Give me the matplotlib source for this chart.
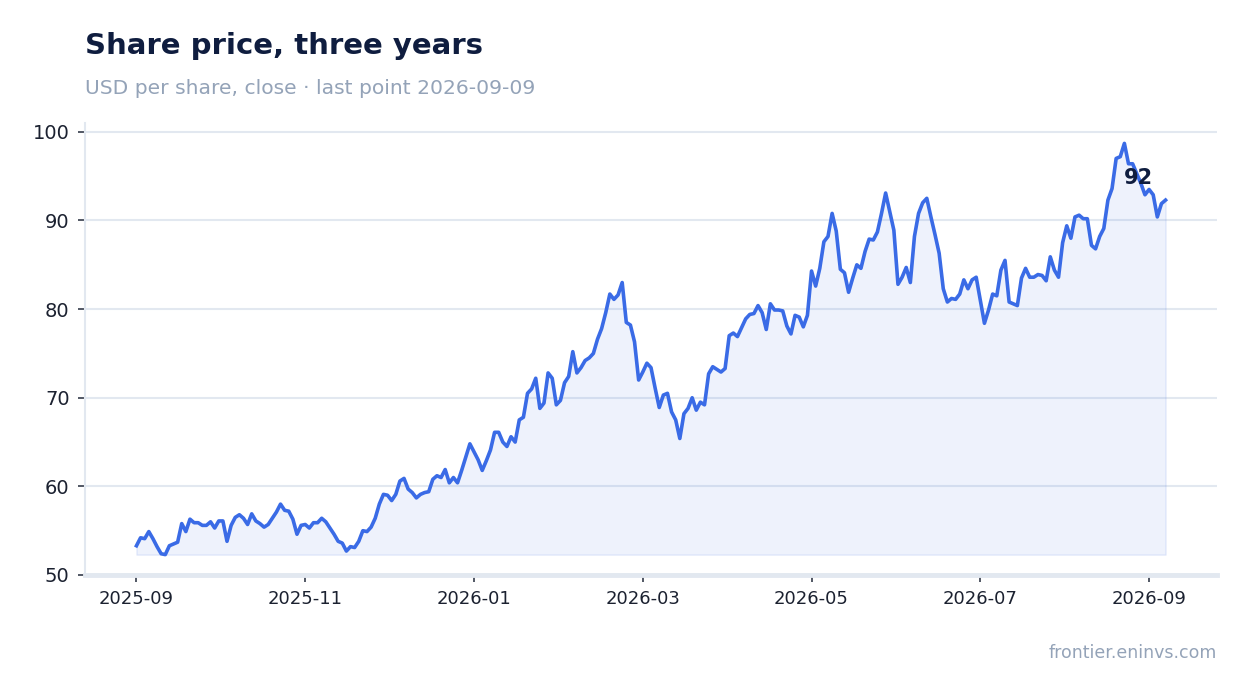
import numpy as np
import pandas as pd
import matplotlib
matplotlib.use("Agg")
import matplotlib.pyplot as plt
import matplotlib.dates as mdates
from matplotlib.ticker import FixedLocator

# closing price, evenly spaced from 2025-09-01 to 2026-09-09
prices = [
    53.3, 54.2, 54.1, 54.9, 54.1, 53.2, 52.4, 52.3, 53.3, 53.5,
    53.7, 55.8, 54.9, 56.3, 55.9, 55.9, 55.6, 55.6, 56.0, 55.3,
    56.1, 56.1, 53.8, 55.6, 56.5, 56.8, 56.4, 55.7, 56.9, 56.1,
    55.8, 55.4, 55.7, 56.4, 57.1, 58.0, 57.3, 57.2, 56.3, 54.6,
    55.6, 55.7, 55.3, 55.9, 55.9, 56.4, 56.0, 55.3, 54.6, 53.8,
    53.6, 52.7, 53.2, 53.1, 53.8, 55.0, 54.9, 55.4, 56.4, 58.0,
    59.1, 59.0, 58.4, 59.1, 60.6, 60.9, 59.7, 59.3, 58.7, 59.1,
    59.3, 59.4, 60.8, 61.2, 61.0, 61.9, 60.4, 61.0, 60.4, 61.8,
    63.3, 64.8, 63.9, 63.0, 61.8, 62.9, 64.1, 66.1, 66.1, 65.0,
    64.5, 65.6, 65.0, 67.5, 67.8, 70.5, 71.0, 72.2, 68.8, 69.4,
    72.8, 72.2, 69.2, 69.7, 71.7, 72.4, 75.2, 72.8, 73.4, 74.2,
    74.5, 75.0, 76.6, 77.8, 79.6, 81.7, 81.1, 81.6, 83.0, 78.5,
    78.2, 76.3, 72.0, 72.9, 73.9, 73.4, 71.1, 68.9, 70.3, 70.5,
    68.4, 67.5, 65.4, 68.2, 68.8, 70.0, 68.6, 69.5, 69.2, 72.7,
    73.5, 73.2, 72.9, 73.3, 77.0, 77.3, 76.9, 77.9, 78.9, 79.4,
    79.5, 80.4, 79.6, 77.7, 80.6, 79.9, 79.9, 79.8, 78.1, 77.2,
    79.3, 79.1, 78.0, 79.3, 84.3, 82.6, 84.6, 87.6, 88.2, 90.8,
    88.8, 84.5, 84.1, 81.9, 83.5, 85.0, 84.6, 86.5, 87.9, 87.8,
    88.7, 90.8, 93.1, 91.0, 88.9, 82.8, 83.6, 84.7, 83.0, 88.2,
    90.8, 92.0, 92.5, 90.4, 88.4, 86.3, 82.3, 80.8, 81.2, 81.1,
    81.7, 83.3, 82.3, 83.3, 83.6, 81.0, 78.4, 79.9, 81.7, 81.5,
    84.4, 85.5, 80.8, 80.6, 80.4, 83.5, 84.6, 83.6, 83.6, 83.9,
    83.8, 83.2, 85.9, 84.4, 83.6, 87.5, 89.4, 88.0, 90.4, 90.6,
    90.2, 90.2, 87.2, 86.8, 88.2, 89.1, 92.3, 93.6, 97.0, 97.2,
    98.7, 96.4, 96.4, 95.3, 94.2, 92.9, 93.5, 92.9, 90.4, 91.9,
    92.3,
]
dates = pd.date_range("2025-09-01", "2026-09-09", periods=len(prices))

yticks = [50, 60, 70, 80, 90, 100]
tick_step = 41  # one label every 41 points (~2 months)

line_color = "#3a6be6"
navy = "#0f1d3f"
muted = "#94a3b8"
grid_color = "#e2e8f0"

fig = plt.figure(figsize=(12.47, 6.93), dpi=100)
ax = fig.add_axes([85 / 1247, 1 - 575 / 693, (1217 - 85) / 1247, (575 - 123) / 693])

ax.fill_between(dates, prices, min(prices), facecolor=(0.23, 0.42, 0.90, 0.085),
                edgecolor=(0.23, 0.42, 0.90, 0.12), lw=1, zorder=2)
ax.plot(dates, prices, color=line_color, lw=2.6, zorder=3)

ax.set_ylim(50, 101)
ax.set_yticks(yticks)
ax.xaxis.set_major_locator(FixedLocator(mdates.date2num(dates[::tick_step])))
ax.xaxis.set_major_formatter(mdates.DateFormatter("%Y-%m"))
ax.margins(x=0.05)

ax.grid(axis="y", color=grid_color, lw=1.5, zorder=0)
ax.set_axisbelow(True)
for side in ["top", "right"]:
    ax.spines[side].set_visible(False)
ax.spines["left"].set_color(grid_color)
ax.spines["left"].set_linewidth(1.5)
ax.spines["bottom"].set_color(grid_color)
ax.spines["bottom"].set_linewidth(3.5)
ax.tick_params(axis="y", labelsize=14, colors="#333b4a", labelcolor="#1b2130",
               length=5, width=1.2, pad=6)
ax.tick_params(axis="x", labelsize=13, colors="#333b4a", labelcolor="#1b2130",
               length=5, width=1.2, pad=6)

last = prices[-1]
ax.annotate(f"{last:.0f}", (dates[-1], last), xytext=(-19.5, 16), textcoords="offset points",
            ha="center", va="center", fontsize=15, fontweight="bold", color=navy, zorder=4)

fig.text(85 / 1247, 1 - 54 / 693, "Share price, three years", fontsize=21,
         fontweight="bold", color=navy, va="baseline")
fig.text(85 / 1247, 1 - 94 / 693, "USD per share, close \u00b7 last point 2026-09-09",
         fontsize=14.6, color=muted, va="baseline")
fig.text(1217 / 1247, 1 - 658 / 693, "frontier.eninvs.com", fontsize=12.5,
         color=muted, ha="right", va="baseline")

fig.savefig("out.png", dpi=100)
